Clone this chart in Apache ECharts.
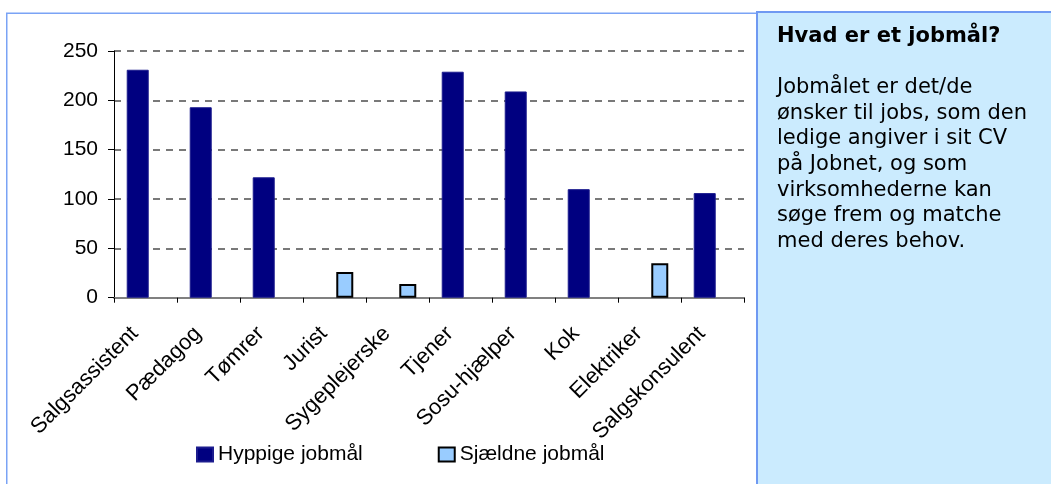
<!DOCTYPE html>
<html>
<head>
<meta charset="utf-8">
<script src="https://cdn.jsdelivr.net/npm/echarts@6/dist/echarts.min.js"></script>
<style>
html,body{margin:0;padding:0;background:#fff;}
#c{width:1051px;height:484px;}
</style>
</head>
<body>
<div id="c"></div>
<script>
var categories = ['Salgsassistent','Pædagog','Tømrer','Jurist','Sygeplejerske','Tjener','Sosu-hjælper','Kok','Elektriker','Salgskonsulent'];
var hyppige = [231, 193, 122, null, null, 229, 209, 110, null, 106];
var sjaeldne = [null, null, null, 26, 14, null, null, null, 35, null];
var seriesNames = ['Hyppige jobmål', 'Sjældne jobmål'];
var yTicks = {min: 0, max: 250, interval: 50};
var infoTitle = 'Hvad er et jobmål?';
var infoLines = ['Jobmålet er det/de', 'ønsker til jobs, som den', 'ledige angiver i sit CV', 'på Jobnet, og som', 'virksomhederne kan', 'søge frem og matche', 'med deres behov.'];

var chart = echarts.init(document.getElementById('c'), null, {renderer: 'canvas'});
var FONT = '"Liberation Sans", Arial, sans-serif';
var option = {
  animation: false,
  backgroundColor: '#ffffff',
  graphic: [
    {type: 'rect', z: -10, silent: true,
     shape: {x: 6.75, y: 13.25, width: 750, height: 500},
     style: {fill: '#ffffff', stroke: '#7aa3f5', lineWidth: 1.5}},
    {type: 'rect', z: -10, silent: true,
     shape: {x: 757, y: 12, width: 320, height: 500},
     style: {fill: '#cbebfe', stroke: '#6f99f2', lineWidth: 2}},
    {type: 'text', z: 10, silent: true, left: 777, top: 23.7,
     style: {text: infoTitle, font: 'bold 21px "DejaVu Sans", Verdana, sans-serif', fill: '#000', lineHeight: 25.6}},
    {type: 'text', z: 10, silent: true, left: 777, top: 74.9,
     style: {text: infoLines.join('\n'), font: '21px "DejaVu Sans", Verdana, sans-serif', fill: '#000', lineHeight: 25.6}}
  ],
  grid: {left: 114, right: 307, top: 51, bottom: 186.3, containLabel: false},
  legend: {
    data: seriesNames,
    left: 196, top: 444, padding: 0,
    itemWidth: 16, itemHeight: 14, itemGap: 75,
    icon: 'rect',
    textStyle: {fontFamily: FONT, fontSize: 21, color: '#000'}
  },
  xAxis: {
    type: 'category',
    data: categories,
    boundaryGap: true,
    axisLine: {show: true, lineStyle: {color: '#808080', width: 2}},
    axisTick: {show: true, length: 5, lineStyle: {color: '#000', width: 1}},
    axisLabel: {interval: 0, rotate: 45, margin: 22, padding: [0, 15, 0, 0], fontFamily: FONT, fontSize: 22, color: '#000'},
    splitLine: {show: false}
  },
  yAxis: {
    type: 'value',
    min: yTicks.min, max: yTicks.max, interval: yTicks.interval,
    axisLine: {show: true, lineStyle: {color: '#000', width: 1}},
    axisTick: {show: true, length: 6, lineStyle: {color: '#000', width: 1}},
    axisLabel: {margin: 16, fontFamily: FONT, fontSize: 21, color: '#000'},
    splitLine: {show: true, lineStyle: {color: '#4d4d4d', width: 1.5, type: [7, 6]}}
  },
  series: [
    {name: seriesNames[0], type: 'bar', data: hyppige, barWidth: 22, barGap: '-6.6%',
     itemStyle: {color: '#000080', borderColor: '#1c1c8e', borderWidth: 1}},
    {name: seriesNames[1], type: 'bar', data: sjaeldne, barWidth: 17,
     itemStyle: {color: '#99ccff', borderColor: '#000', borderWidth: 2}}
  ]
};
chart.setOption(option);
</script>
</body>
</html>
